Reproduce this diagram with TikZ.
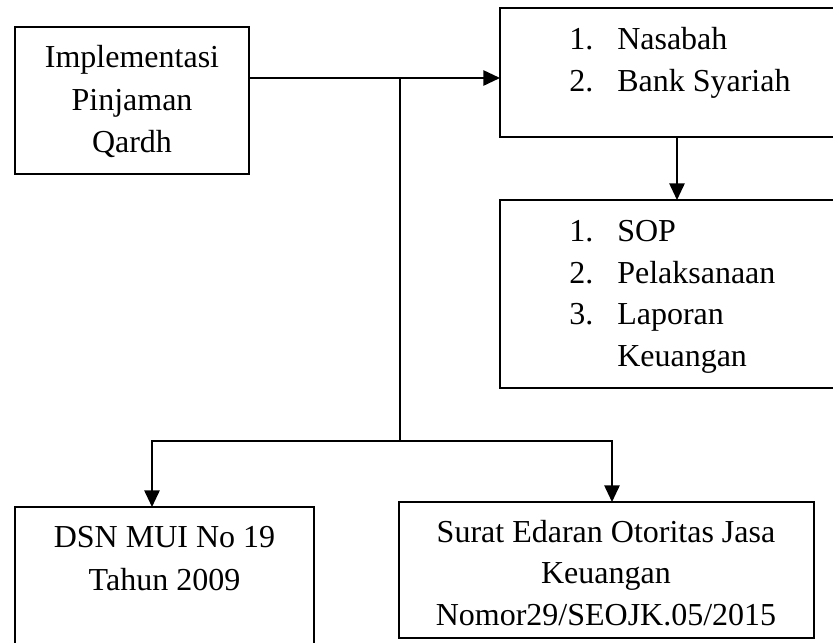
\documentclass[tikz,border=0pt]{standalone}
\usepackage{fontspec}
\setmainfont{Liberation Serif}
\usetikzlibrary{arrows.meta}
\begin{document}
\begin{tikzpicture}[x=0.75pt,y=-0.75pt,
  box/.style={draw,line width=1.2pt,inner sep=0pt,outer sep=0pt,anchor=north west},
  txt/.style={font=\fontsize{24}{31.5}\selectfont,inner sep=0pt,anchor=base},
  ltxt/.style={txt,anchor=base west},
  conn/.style={line width=1.3pt},
  arr/.style={conn,-{Triangle[length=12.5pt,width=11.5pt]}}]
\useasboundingbox (0,0) rectangle (833,643);
\clip (0,0) rectangle (833,643);
% boxes
\node[box,minimum width=175.5pt,minimum height=110.25pt] (b1) at (15,27) {};
\node[box,minimum width=258.75pt,minimum height=96.75pt] (b2) at (500,8) {};
\node[box,minimum width=258.75pt,minimum height=141pt] (b3) at (500,200) {};
\node[box,minimum width=224.25pt,minimum height=112.5pt] (b4) at (15,507) {};
\node[box,minimum width=311.25pt,minimum height=102pt] (b5) at (399,502) {};
% box 1 text
\node[txt] (t1a) at (132,67) {Implementasi};
\node[txt] (t1b) at (132,110) {Pinjaman};
\node[txt] (t1c) at (132,152) {Qardh};
% box 2 text
\node[ltxt] (n2a) at (569,49) {1.};
\node[ltxt] (t2a) at (617,49) {Nasabah};
\node[ltxt] (n2b) at (569,91) {2.};
\node[ltxt] (t2b) at (617,91) {Bank Syariah};
% box 3 text
\node[ltxt] (n3a) at (569,241) {1.};
\node[ltxt] (t3a) at (617,241) {SOP};
\node[ltxt] (n3b) at (569,283) {2.};
\node[ltxt] (t3b) at (617,283) {Pelaksanaan};
\node[ltxt] (n3c) at (569,324.5) {3.};
\node[ltxt] (t3c) at (617,324.5) {Laporan};
\node[ltxt] (t3d) at (617,366.5) {Keuangan};
% box 4 text
\node[txt] (t4a) at (164.5,547) {DSN MUI No 19};
\node[txt] (t4b) at (164.5,590) {Tahun 2009};
% box 5 text
\node[txt] (t5a) at (606,542) {Surat Edaran Otoritas Jasa};
\node[txt] (t5b) at (606,583.5) {Keuangan};
\node[txt] (t5c) at (606,625) {Nomor29/SEOJK.05/2015};
% connectors
\coordinate (j1) at (400,78);
\coordinate (j2) at (400,441);
\coordinate (l) at (152,441);
\coordinate (r) at (612,441);
\coordinate (m) at (677,150);
\draw[arr] (b1.east |- j1) -- (b2.west |- j1);
\draw[conn] (j1) -- (j2);
\draw[arr] (j2) -- (l) -- (b4.north -| l);
\draw[arr] (j2) -- (r) -- (b5.north -| r);
\draw[arr] (b2.south -| m) -- (b3.north -| m);
\end{tikzpicture}
\end{document}
